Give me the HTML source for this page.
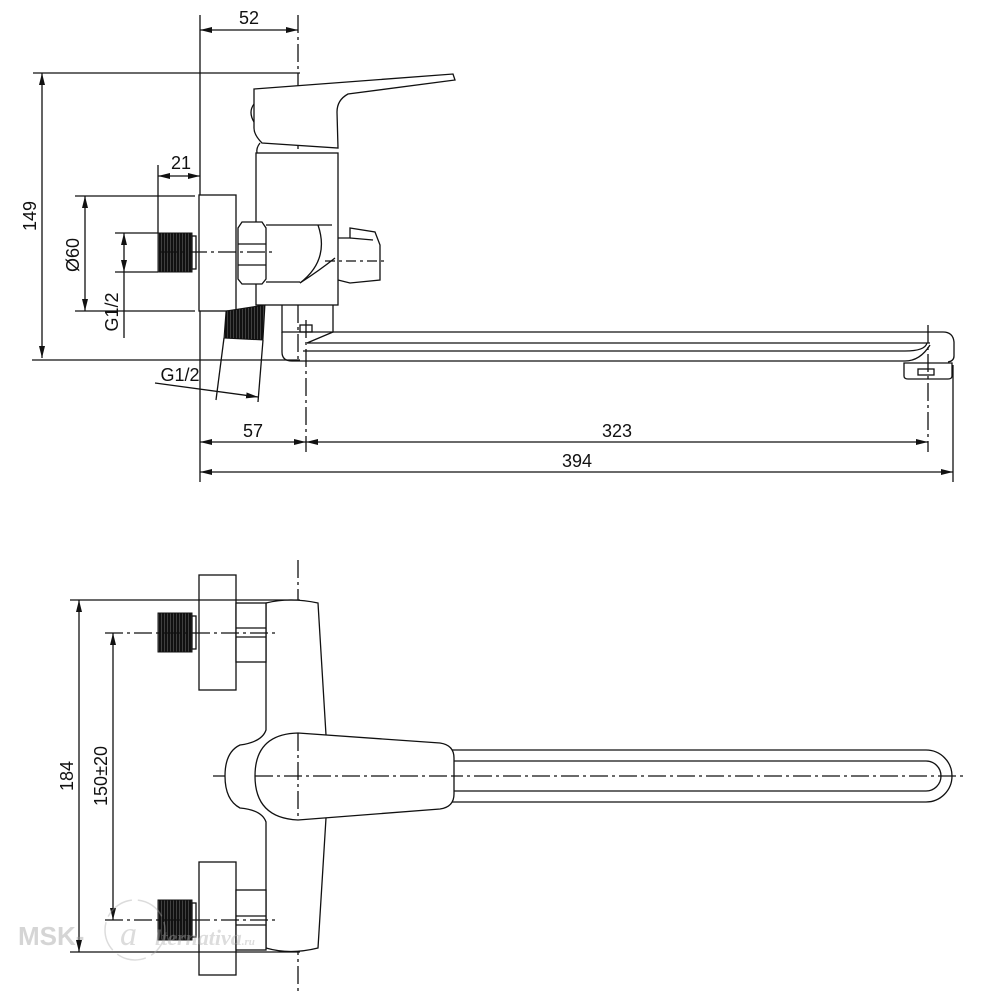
<!DOCTYPE html>
<html><head><meta charset="utf-8"><style>
html,body{margin:0;padding:0;background:#fff}
svg{display:block}
text{font-family:"Liberation Sans",sans-serif;font-size:18px;fill:#111}
</style></head><body>
<svg width="1000" height="1000" viewBox="0 0 1000 1000" xmlns="http://www.w3.org/2000/svg">
<defs>
<marker id="a" viewBox="0 0 12 6" refX="12" refY="3" markerWidth="12" markerHeight="6" orient="auto-start-reverse" markerUnits="userSpaceOnUse"><path d="M0,0L12,3L0,6z" fill="#111"/></marker>
<pattern id="th" width="3" height="4" patternUnits="userSpaceOnUse"><rect width="3" height="4" fill="#555"/><rect width="2.3" height="4" fill="#111"/></pattern>
</defs>
<g stroke="#111" stroke-width="1.3" fill="none">
<!-- ===== TOP VIEW ===== -->
<line x1="200" y1="15" x2="200" y2="482"/>
<line x1="200" y1="30" x2="298" y2="30" marker-start="url(#a)" marker-end="url(#a)"/>
<line x1="298" y1="15" x2="298" y2="360" stroke-dasharray="18,4,3,4"/>
<line x1="33" y1="73" x2="300" y2="73"/>
<line x1="42" y1="73" x2="42" y2="358" marker-start="url(#a)" marker-end="url(#a)"/>
<line x1="32" y1="360" x2="300" y2="360"/>
<path d="M254,89 L453,74 L455,80 L348,94 Q337,100 337,112 L338,148 L262,143 Q254,135 254,128 Z" fill="#fff"/>
<path d="M254,104 Q248,112 254,122"/>
<path d="M260,143 Q256,148 257,153"/>
<rect x="256" y="153" width="82" height="152" fill="#fff"/>
<path d="M266,225 L332,225 M266,282 L300,282"/>
<path d="M318,225 Q330,260 300,283" />
<path d="M300,283 Q320,270 335,258"/>
<path d="M338,238 L350,238 L350,228 L375,232 L380,245 L380,280 L350,283 L338,280"/>
<path d="M350,238 L373,240"/>
<line x1="325" y1="261" x2="385" y2="261" stroke-dasharray="10,4,3,4"/>
<path d="M282,305 L282,332 L333,332 L333,305"/>
<rect x="300" y="325" width="12" height="7"/>
<path d="M282,332 L282,352 Q282,361 292,361 L905,361 Q920,361 930,345"/>
<path d="M333,332 L943,332 Q953,332 954,342 L954,356 Q954,361 948,362"/>
<path d="M307,343 L930,343 M307,343 L333,332"/>
<path d="M303,351 L905,351 Q925,351 927,343"/>
<path d="M904,363 L952,363 L952,376 Q952,379 948,379 L908,379 Q904,379 904,376Z" fill="#fff"/>
<rect x="918" y="369" width="16" height="6"/>
<rect x="199" y="195" width="37" height="116" fill="#fff"/>
<path d="M242,222 L262,222 L266,228 L266,279 L262,284 L242,284 L238,279 L238,228 Z" fill="#fff"/>
<path d="M238,244 L266,244 M238,265 L266,265"/>
<rect x="158" y="233" width="34" height="39" fill="url(#th)" stroke-width="1"/>
<rect x="192" y="236" width="4" height="33" fill="#fff"/>
<line x1="160" y1="252" x2="275" y2="252" stroke-dasharray="18,4,3,4"/>
<path d="M226,311 L265,305 L263,340 L224,338 Z" fill="url(#th)" stroke-width="1"/>
<line x1="158" y1="165" x2="158" y2="233"/>
<line x1="158" y1="176" x2="200" y2="176" marker-start="url(#a)" marker-end="url(#a)"/>
<line x1="75" y1="196" x2="195" y2="196"/>
<line x1="75" y1="311" x2="195" y2="311"/>
<line x1="85" y1="196" x2="85" y2="311" marker-start="url(#a)" marker-end="url(#a)"/>
<line x1="115" y1="233" x2="158" y2="233"/>
<line x1="115" y1="272" x2="158" y2="272"/>
<line x1="124" y1="233" x2="124" y2="272" marker-start="url(#a)" marker-end="url(#a)"/>
<line x1="124" y1="272" x2="124" y2="338"/>
<line x1="224" y1="338" x2="216" y2="400"/>
<line x1="263" y1="340" x2="258" y2="402"/>
<line x1="155" y1="383" x2="258" y2="397" marker-end="url(#a)"/>
<line x1="306" y1="320" x2="306" y2="452" stroke-dasharray="18,4,3,4"/>
<line x1="928" y1="325" x2="928" y2="452" stroke-dasharray="18,4,3,4"/>
<line x1="953" y1="365" x2="953" y2="482"/>
<line x1="200" y1="442" x2="306" y2="442" marker-start="url(#a)" marker-end="url(#a)"/>
<line x1="306" y1="442" x2="928" y2="442" marker-start="url(#a)" marker-end="url(#a)"/>
<line x1="200" y1="472" x2="953" y2="472" marker-start="url(#a)" marker-end="url(#a)"/>

<!-- ===== BOTTOM VIEW ===== -->
<line x1="298" y1="560" x2="298" y2="992" stroke-dasharray="18,4,3,4"/>
<path d="M450,750 L926,750 A26,26 0 0 1 926,802 L450,802"/>
<path d="M450,761 L926,761 A15,15 0 0 1 926,791 L450,791"/>
<line x1="213" y1="776" x2="965" y2="776" stroke-dasharray="18,4,3,4"/>
<path d="M266,603 Q290,597 318,603 L326,735 L326,818 L318,948 Q290,955 266,948 L266,822 Q262,810 240,808 Q225,800 225,776 Q225,752 240,745 Q262,742 266,730 Z" fill="#fff"/>
<path d="M298,733 L440,743 Q454,745 454,758 L454,794 Q454,807 440,809 L298,820 Q255,818 255,776 Q255,734 298,733 Z" fill="#fff"/>
<line x1="255" y1="776" x2="454" y2="776" stroke-dasharray="18,4,3,4"/>
<line x1="298" y1="733" x2="298" y2="820" stroke-dasharray="18,4,3,4"/>
<rect x="199" y="575" width="37" height="115" fill="#fff"/>
<rect x="236" y="603" width="30" height="59" fill="#fff"/>
<path d="M236,628 L266,628 M236,637 L266,637"/>
<rect x="158" y="613" width="34" height="39" fill="url(#th)" stroke-width="1"/>
<rect x="192" y="616" width="4" height="33" fill="#fff"/>
<rect x="199" y="862" width="37" height="113" fill="#fff"/>
<rect x="236" y="890" width="30" height="60" fill="#fff"/>
<path d="M236,916 L266,916 M236,925 L266,925"/>
<rect x="158" y="900" width="34" height="40" fill="url(#th)" stroke-width="1"/>
<rect x="192" y="903" width="4" height="34" fill="#fff"/>
<line x1="105" y1="633" x2="275" y2="633" stroke-dasharray="18,4,3,4"/>
<line x1="105" y1="920" x2="275" y2="920" stroke-dasharray="18,4,3,4"/>
<line x1="70" y1="600" x2="300" y2="600"/>
<line x1="70" y1="952" x2="300" y2="952"/>
<line x1="79" y1="600" x2="79" y2="952" marker-start="url(#a)" marker-end="url(#a)"/>
<line x1="113" y1="633" x2="113" y2="920" marker-start="url(#a)" marker-end="url(#a)"/>
</g>
<text x="249" y="24" text-anchor="middle">52</text>
<text x="181" y="169" text-anchor="middle">21</text>
<text x="253" y="437" text-anchor="middle">57</text>
<text x="617" y="437" text-anchor="middle">323</text>
<text x="577" y="467" text-anchor="middle">394</text>
<text x="180" y="381" text-anchor="middle">G1/2</text>
<text transform="translate(36,216) rotate(-90)" text-anchor="middle">149</text>
<text transform="translate(79,255) rotate(-90)" text-anchor="middle">Ø60</text>
<text transform="translate(118,312) rotate(-90)" text-anchor="middle">G1/2</text>
<text transform="translate(73,776) rotate(-90)" text-anchor="middle">184</text>
<text transform="translate(107,776) rotate(-90)" text-anchor="middle">150±20</text>
<g opacity="0.4">
<text x="18" y="945" style="font-size:26px;font-weight:bold;fill:#999">MSK-</text>
<circle cx="135" cy="930" r="30" fill="none" stroke="#aaa" stroke-width="1.5" stroke-dasharray="30,6"/>
<text x="120" y="945" style="font-size:34px;font-style:italic;font-family:'Liberation Serif',serif;fill:#aaa">a</text>
<text x="155" y="945" style="font-size:22px;font-style:italic;font-weight:bold;font-family:'Liberation Serif',serif;fill:#aaa">lternativa<tspan style="font-size:11px">.ru</tspan></text>
</g>
</svg>
</body></html>
